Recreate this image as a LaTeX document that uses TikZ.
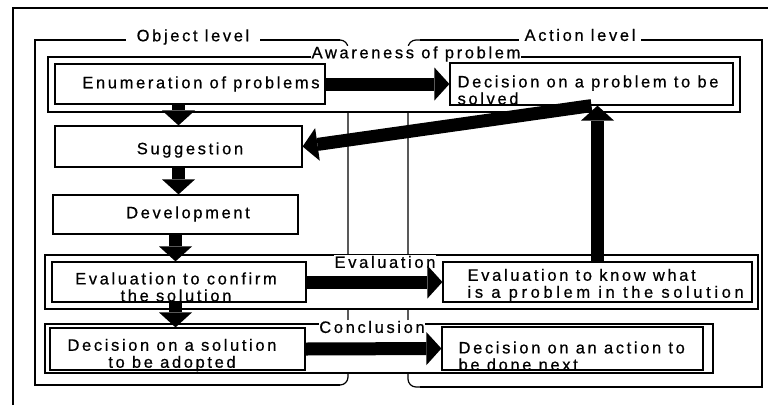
\documentclass[tikz,border=0pt]{standalone}
\usepackage{fontspec}
\setmainfont{Liberation Sans}[LetterSpace=16,FakeBold=0.6]
\usetikzlibrary{arrows.meta}
\begin{document}
\begin{tikzpicture}[x=1pt,y=-1pt, line width=1.2pt,
  box/.style={draw, fill=white, inner sep=0pt, line width=1.2pt},
  txt/.style={inner sep=0pt, font=\fontsize{16.5}{17}\selectfont, align=left},
  lab/.style={fill=white, inner sep=0.5pt, font=\fontsize{16.5}{17}\selectfont},
  fat/.style={line width=13pt, -{Triangle[width=33pt,length=15pt,line width=0pt]}},
]
\useasboundingbox (0,0) rectangle (768,405);
\draw (13,405) -- (13,8) -- (768,8);
% level brackets
\draw (340,40) -- (35,40) -- (35,385) -- (340,385);
\draw[rounded corners=8pt] (330,40) -- (348,40) -- (348,385) -- (330,385);
\draw (420,40) -- (762,40) -- (762,387) -- (420,387);
\draw[rounded corners=8pt] (430,40) -- (408,40) -- (408,387) -- (430,387);
\node[lab, inner xsep=11pt] (objlab) at (193,37) {Object level};
\node[lab, inner xsep=6pt, xshift=-4pt] (actlab) at (584,35) {Action level};
% groups
\node[box, minimum width=692pt, minimum height=55pt] (aware) at (394,84.5) {};
\node[box, minimum width=713pt, minimum height=54pt] (evalg) at (401.5,282) {};
\node[box, minimum width=668pt, minimum height=49pt] (concg) at (379,348.5) {};
% inner boxes
\node[box, minimum width=270pt, minimum height=40pt] (enum) at (190,84) {};
\node[box, minimum width=283pt, minimum height=42pt] (dprob) at (591.5,84) {};
\node[box, minimum width=247pt, minimum height=41pt] (sugg) at (178.5,146.5) {};
\node[box, minimum width=245pt, minimum height=39pt] (dev) at (175.5,214.5) {};
\node[box, minimum width=254pt, minimum height=40pt] (evconf) at (179,282) {};
\node[box, minimum width=309pt, minimum height=40pt] (evknow) at (597.5,282) {};
\node[box, minimum width=255pt, minimum height=42pt] (dsol) at (177.5,349) {};
\node[box, minimum width=261pt, minimum height=43pt] (dact) at (572.5,348.5) {};
% labels
\node[lab] (awarelab) at (416,54) {Awareness of problem};
\node[lab] (evallab) at (385,262) {Evaluation};
\node[lab] (conclab) at (372,327) {Conclusion};
% texts
\node[txt] (tenum) at (201,84) {Enumeration of problems};
\node[txt, anchor=west] (tdprob) at (457,90) {Decision on a problem to be\\solved};
\node[txt] (tsugg) at (190,150) {Suggestion};
\node[txt] (tdev) at (188,214) {Development};
\node[txt, align=center] (tevconf) at (176,287) {Evaluation to confirm\\the solution};
\node[txt, anchor=west] (tevknow) at (467,285) {Evaluation to know what\\{\addfontfeature{LetterSpace=22}is a problem in the solution}};
\node[txt, align=center] (tdsol) at (172,355) {Decision on a solution\\to be adopted};
\node[txt, anchor=west] (tdact) at (458,356) {Decision on an action to\\be done next};
% arrows
\draw[fat] (enum.east) -- (dprob.west);
\draw[fat] (enum.south -| sugg.north) -- (sugg.north);
\draw[fat] (sugg.south) -- (dev.north -| sugg.south);
\draw[fat] (dev.south) -- (evconf.north -| dev.south);
\draw[fat] (evconf.south -| dev.south) -- (dsol.north -| dev.south);
\draw[fat] (dprob.south) -- (sugg.east);
\draw[fat] (evknow.north) -- (evknow.north |- dprob.south);
\draw[fat] (evconf.east) -- (evknow.west);
\draw[fat] (dsol.east) -- (dact.west);
\end{tikzpicture}
\end{document}
